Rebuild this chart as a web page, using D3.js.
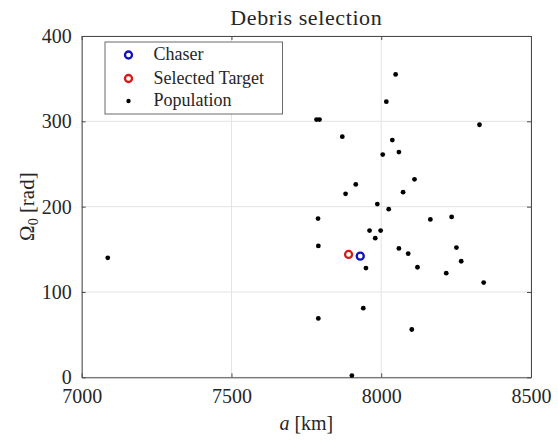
<!DOCTYPE html>
<html>
<head>
<meta charset="utf-8">
<script src="https://cdn.jsdelivr.net/npm/d3@7"></script>
<style>
  html, body { margin: 0; padding: 0; background: #fff; }
  svg { display: block; }
  text { font-family: "Liberation Serif", "DejaVu Serif", serif; fill: #262626; }
</style>
</head>
<body>
<svg id="chart" width="558" height="440"></svg>
<script>
// ---- data ----
const popA = [7087, 8048, 8017, 7784, 7794, 8328, 7870, 8037, 8059, 8005, 8111, 7915, 7881, 8073, 7987, 8025,
              7789, 8164, 8235, 7961, 7998, 7980, 7790, 8059, 8090, 8251, 8267, 7949, 8121, 8217, 8342, 7940, 7790, 8102, 7902];
const popOmega = [140, 355, 323, 302, 302, 296, 282, 278, 264, 261, 232, 226, 215, 217, 203, 197,
                  186, 185, 188, 172, 172, 163, 154, 151, 145, 152, 136, 128, 129, 122, 111, 81, 69, 56, 2];
const chaser = { a: 7930, omega: 142 };
const target = { a: 7891, omega: 144 };
const xTicks = [7000, 7500, 8000, 8500];
const yTicks = [0, 100, 200, 300, 400];
const legendLabels = ["Chaser", "Selected Target", "Population"];

// ---- layout ----
const svg = d3.select("#chart");
const L = 81.7, R = 531, T = 36, B = 377.3;
const x = d3.scaleLinear().domain([7000, 8500]).range([L, R]);
const y = d3.scaleLinear().domain([0, 400]).range([B, T]);

// grid
const grid = svg.append("g");
grid.selectAll("line.gx").data(xTicks).join("line")
  .attr("x1", d => x(d)).attr("x2", d => x(d)).attr("y1", T).attr("y2", B)
  .attr("stroke", "#e3e3e3").attr("stroke-width", 1);
grid.selectAll("line.gy").data(yTicks).join("line")
  .attr("y1", d => y(d)).attr("y2", d => y(d)).attr("x1", L).attr("x2", R)
  .attr("stroke", "#e3e3e3").attr("stroke-width", 1);

// axes
const fs = 20;
const fmt = d3.format("d");
const xAxis = d3.axisBottom(x).tickValues(xTicks).tickFormat(fmt).tickSize(-4).tickPadding(12).tickSizeOuter(0);
const yAxis = d3.axisLeft(y).tickValues(yTicks).tickFormat(fmt).tickSize(-4).tickPadding(10).tickSizeOuter(0);
const gx = svg.append("g").attr("transform", `translate(0,${B})`).call(xAxis);
const gy = svg.append("g").attr("transform", `translate(${L},0)`).call(yAxis);
const gxTop = svg.append("g").attr("transform", `translate(0,${T})`).call(d3.axisTop(x).tickValues(xTicks).tickSize(-4).tickFormat("").tickSizeOuter(0));
const gyRight = svg.append("g").attr("transform", `translate(${R},0)`).call(d3.axisRight(y).tickValues(yTicks).tickSize(-4).tickFormat("").tickSizeOuter(0));
[gx, gy, gxTop, gyRight].forEach(g => {
  g.select(".domain").attr("stroke", "#4a4a4a").attr("stroke-width", 1);
  g.selectAll(".tick line").attr("stroke", "#4a4a4a");
  g.selectAll(".tick text").attr("font-family", "Liberation Serif, DejaVu Serif, serif")
    .attr("font-size", fs).attr("fill", "#333");
});
gx.selectAll(".tick text").attr("dy", "0.68em");

// population
svg.append("g").selectAll("circle").data(popA.map((a, i) => [a, popOmega[i]])).join("circle")
  .attr("cx", d => x(d[0])).attr("cy", d => y(d[1])).attr("r", 2.4).attr("fill", "#000");

// chaser & target
svg.append("circle").attr("cx", x(target.a)).attr("cy", y(target.omega)).attr("r", 3.5)
  .attr("fill", "none").attr("stroke", "#d61a1a").attr("stroke-width", 2.3);
svg.append("circle").attr("cx", x(chaser.a)).attr("cy", y(chaser.omega)).attr("r", 3.5)
  .attr("fill", "none").attr("stroke", "#1010c0").attr("stroke-width", 2.3);

// title
svg.append("text").attr("x", (L + R) / 2).attr("y", 25).attr("text-anchor", "middle")
  .attr("font-size", 22).attr("letter-spacing", 0.6).attr("fill", "#111").text("Debris selection");

// x label
const xl = svg.append("text").attr("x", (L + R) / 2).attr("y", 430).attr("text-anchor", "middle")
  .attr("font-size", 20).attr("fill", "#333");
xl.append("tspan").attr("font-style", "italic").text("a");
xl.append("tspan").text(" [km]");

// y label
const yl = svg.append("text").attr("transform", `translate(34,${(T + B) / 2}) rotate(-90)`)
  .attr("text-anchor", "middle").attr("font-size", 21).attr("fill", "#333");
yl.append("tspan").text("Ω");
yl.append("tspan").attr("font-size", 14).attr("dy", 4).text("0");
yl.append("tspan").attr("dy", -4).text(" [rad]");

// legend
const lg = svg.append("g");
lg.append("rect").attr("x", 105).attr("y", 42).attr("width", 177.5).attr("height", 72)
  .attr("fill", "#fff").attr("stroke", "#6a6a6a").attr("stroke-width", 1);
const rowsY = [55, 78.5, 101];
lg.append("circle").attr("cx", 128.5).attr("cy", rowsY[0]).attr("r", 3.5)
  .attr("fill", "none").attr("stroke", "#1010c0").attr("stroke-width", 2.3);
lg.append("circle").attr("cx", 128.5).attr("cy", rowsY[1]).attr("r", 3.5)
  .attr("fill", "none").attr("stroke", "#d61a1a").attr("stroke-width", 2.3);
lg.append("circle").attr("cx", 128.5).attr("cy", rowsY[2]).attr("r", 2.2).attr("fill", "#000");
lg.selectAll("text").data(legendLabels).join("text")
  .attr("x", 153.5).attr("y", (d, i) => rowsY[i] + 5).attr("font-size", 18).attr("fill", "#111")
  .text(d => d);
</script>
</body>
</html>
